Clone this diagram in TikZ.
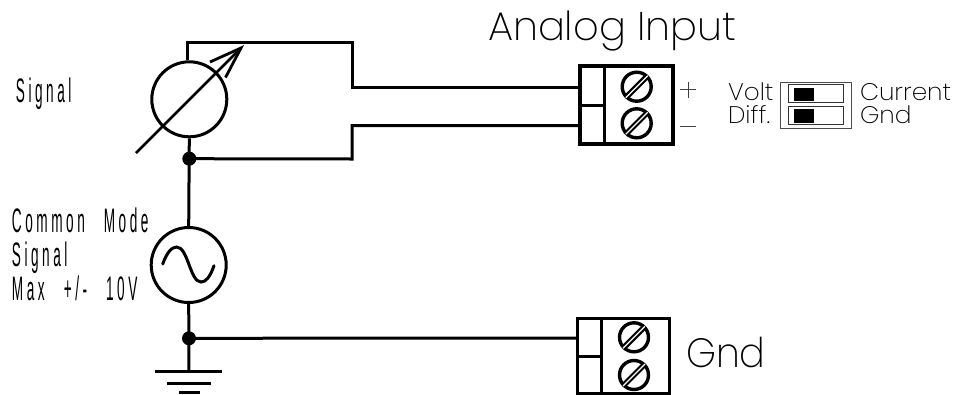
\documentclass[tikz,border=0pt]{standalone}
\usepackage{fontspec}
\newfontfamily\widefont{Poppins ExtraLight}
\newfontfamily\narrowfont[LetterSpace=26,WordSpace=2.6]{Liberation Sans}
\newcommand{\wtext}[3]{\scalebox{#1}[#2]{\widefont #3}}
\newcommand{\ntext}[1]{\scalebox{0.40}[1]{\narrowfont\fontsize{34}{34}\selectfont #1}}
\tikzset{
  x=1pt,y=-1pt,
  wire/.style={line width=3pt,line cap=butt,line join=miter},
  lab/.style={anchor=base west,inner sep=0pt,outer sep=0pt},
  dotnode/.style={circle,fill=black,inner sep=0pt,minimum size=14pt},
  srcnode/.style={circle,draw,line width=3pt,inner sep=0pt,minimum size=75pt},
  screwnode/.style={circle,draw,line width=3.4pt,inner sep=0pt,minimum size=29pt},
  thin line/.style={line width=0.7pt,draw=black!75},
}
\begin{document}
\begin{tikzpicture}
\useasboundingbox (0,0) rectangle (955,394);
% sources
\node[srcnode] (meter) at (189.3,99.3) {};
\node[srcnode] (ac) at (188.7,265) {};
\node[dotnode] (d1) at (189.3,158.7) {};
\node[dotnode] (d2) at (189,338.3) {};
% terminals
\coordinate (t1in) at (580,87);
\coordinate (t2in) at (580,126);
\coordinate (t3in) at (577,338);
\coordinate (c1) at (187,42);
\coordinate (c2) at (352,42);
\coordinate (c3) at (352,87);
\coordinate (c4) at (352,159);
\coordinate (c5) at (352,125.5);
\coordinate (gnd) at (189,371.7);
\draw[wire] (meter.north -| c1) -- (c1) -- (c2) -- (c3) -- (t1in);
\draw[wire] (d1.center) -- (c4) -- (c5) -- (c5 -| t2in);
\draw[wire] (meter.south) -- (ac.north);
\draw[wire] (d2.center) -- (t3in);
\draw[wire] (ac.south) -- (gnd);
% meter arrow
\coordinate (a0) at (136,153);
\coordinate (a1) at (241,48);
\coordinate (b1) at (210,62);
\coordinate (b2) at (225.5,77.5);
\draw[line width=2.8pt] (a0) -- (a1);
\draw[line width=2.8pt,line join=miter] (b1) -- (a1) -- (b2);
% sine
\draw[line width=3pt,line cap=round] (162.7,264) .. controls (167,252) and (172,247) .. (176.7,247) .. controls (188,247) and (190,282) .. (201,282) .. controls (206,282) and (210,277) .. (214,265.7);
% ground
\draw[line width=3.2pt] (155,371.7) -- (222,371.7);
\draw[line width=3.2pt] (167,383.3) -- (211,383.3);
\draw[line width=3.2pt] (179,392.5) -- (200,392.5);
% terminal block 1
\draw[line width=3.7pt] (580,66) rectangle (672.7,144);
\draw[line width=3pt] (604,66) -- (604,144);
\draw[line width=3pt] (580,105) -- (604,105);
\foreach \n/\cx/\cy in {s1/636.7/86.7,s2/636.7/123.3,s3/634/337.3,s4/634/375}{
  \node[screwnode] (\n) at (\cx,\cy) {};
  \begin{scope}[shift={(\cx,\cy)}]
    \draw[line width=5.6pt] (-11,11) -- (11,-11);
    \draw[line width=1.2pt,white] (-11,11) -- (11,-11);
  \end{scope}
}
% terminal block 2
\draw[line width=3pt] (577.3,318) -- (669.3,318) -- (669.3,393) -- (577.3,393) -- cycle;
\draw[line width=3pt] (601.7,318) -- (601.7,393);
\draw[line width=3pt] (577.3,356.7) -- (601.7,356.7);
% plus minus
\draw[thin line] (680,89.3) -- (696,89.3) (688,81.5) -- (688,97.5);
\draw[thin line] (680,126) -- (696,126);
% switch
\draw[line width=0.8pt,draw=black!70] (780,82) rectangle (851,128);
\draw[line width=0.9pt,draw=black!80] (788,84.5) rectangle (843,102);
\draw[line width=0.9pt,draw=black!80] (788,106) rectangle (843,124);
\fill (794,88) rectangle (814,101);
\fill (794,109) rectangle (814,123);
% labels
\node[lab] (ttl) at (488,40) {\wtext{1.0}{1}{\fontsize{40}{40}\selectfont Analog Input}};
\node[lab] (lgnd) at (686,367) {\wtext{0.93}{1}{\fontsize{41}{41}\selectfont Gnd}};
\node[lab] (lvolt) at (728,100) {\wtext{1.03}{1}{\fontsize{24}{24}\selectfont Volt}};
\node[lab] (ldiff) at (728,123) {\wtext{1.03}{1}{\fontsize{24}{24}\selectfont Diff.}};
\node[lab] (lcur) at (860,100) {\wtext{1.03}{1}{\fontsize{24}{24}\selectfont Current}};
\node[lab] (lg2) at (860,123) {\wtext{1.03}{1}{\fontsize{24}{24}\selectfont Gnd}};
\node[lab] (lsig) at (16,102) {\ntext{Signal}};
\node[lab] (lcm) at (12,232) {\ntext{Common Mode}};
\node[lab] (ls2) at (12,266) {\ntext{Signal}};
\node[lab] (lmax) at (12,300) {\ntext{Max +/- 10V}};
\end{tikzpicture}
\end{document}
